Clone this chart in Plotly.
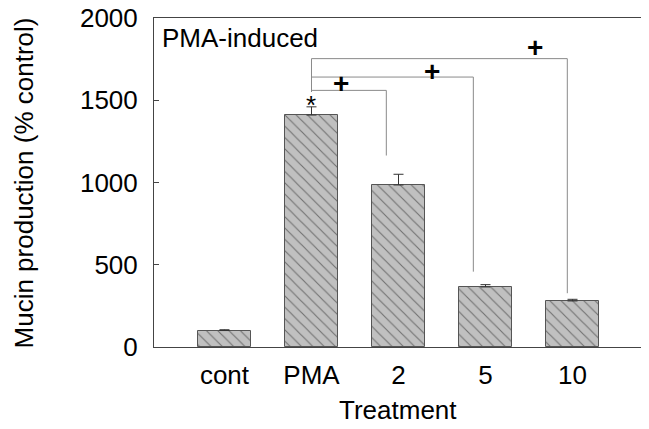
import plotly.graph_objects as go

categories = ["cont", "PMA", "2", "5", "10"]
values = [100, 1410, 985, 365, 280]
errors = [5, 50, 65, 14, 10]

# significance brackets: from PMA (index 1) to each treated bar
bracket_levels = [1560, 1641, 1753]
bracket_ends = [1.86, 2.86, 3.94]
bracket_drops = [1164, 458, 327]
plus_x = [1.34, 2.39, 3.57]
plus_y = [1604, 1674, 1820]

FONT = "Liberation Sans, Arial, sans-serif"
idx = list(range(len(categories)))

fig = go.Figure()
fig.add_trace(go.Bar(
    x=idx, y=values, width=0.61,
    marker=dict(color="#c0c0c0", line=dict(color="#555555", width=1),
                pattern=dict(shape="\\", fgcolor="#222222", size=8, solidity=0.14)),
    error_y=dict(type="data", array=errors, arrayminus=[0]*len(errors), symmetric=False,
                 color="#333333", thickness=1, width=5),
    showlegend=False, hoverinfo="skip",
))

# PMA vertical stem
fig.add_trace(go.Scatter(x=[1, 1], y=[max(bracket_levels), 1550], mode="lines",
                         line=dict(color="#8a8a8a", width=1), showlegend=False, hoverinfo="skip"))
for lvl, xe, yd in zip(bracket_levels, bracket_ends, bracket_drops):
    fig.add_trace(go.Scatter(x=[1, xe, xe], y=[lvl, lvl, yd], mode="lines",
                             line=dict(color="#8a8a8a", width=1), showlegend=False, hoverinfo="skip"))

for px, py in zip(plus_x, plus_y):
    fig.add_annotation(x=px, y=py, text="<b>+</b>", showarrow=False,
                       font=dict(family=FONT, size=28, color="black"), xanchor="center", yanchor="middle")

fig.add_annotation(x=1, y=1470, text="*", showarrow=False,
                   font=dict(family=FONT, size=26, color="black"), xanchor="center", yanchor="middle")
fig.add_annotation(x=-0.74, y=1881, text="PMA-induced", showarrow=False,
                   font=dict(family=FONT, size=26, color="black"), xanchor="left", yanchor="middle")

# axis titles
fig.add_annotation(xref="paper", yref="paper", x=-0.267, y=0.5, text="Mucin production (% control)",
                   textangle=-90, showarrow=False, xanchor="center", yanchor="middle",
                   font=dict(family=FONT, size=26, color="black"))
fig.add_annotation(xref="paper", yref="paper", x=0.5, y=-0.19, text="Treatment",
                   showarrow=False, xanchor="center", yanchor="middle",
                   font=dict(family=FONT, size=26, color="black"))

fig.update_layout(
    width=633, height=413,
    margin=dict(l=146, r=0, t=10, b=74, autoexpand=False),
    paper_bgcolor="white", plot_bgcolor="white",
    font=dict(family=FONT, size=26, color="black"),
    bargap=0,
)
fig.update_xaxes(
    range=[-0.81, 4.787], tickvals=idx, ticktext=categories,
    showline=True, linecolor="#444444", linewidth=1, mirror=True,
    ticks="", showgrid=False, zeroline=False,
    ticklabelstandoff=5,
    tickfont=dict(size=26), automargin=False,
)
fig.update_yaxes(
    range=[0, 2000], tickvals=[0, 500, 1000, 1500, 2000],
    showline=True, linecolor="#444444", linewidth=1,
    ticks="inside", ticklen=5, tickcolor="#444444",
    showgrid=False, zeroline=False,
    ticklabelstandoff=10, ticklabeloverflow="allow",
    tickfont=dict(size=26), automargin=False,
)

fig.write_html("out.html")
